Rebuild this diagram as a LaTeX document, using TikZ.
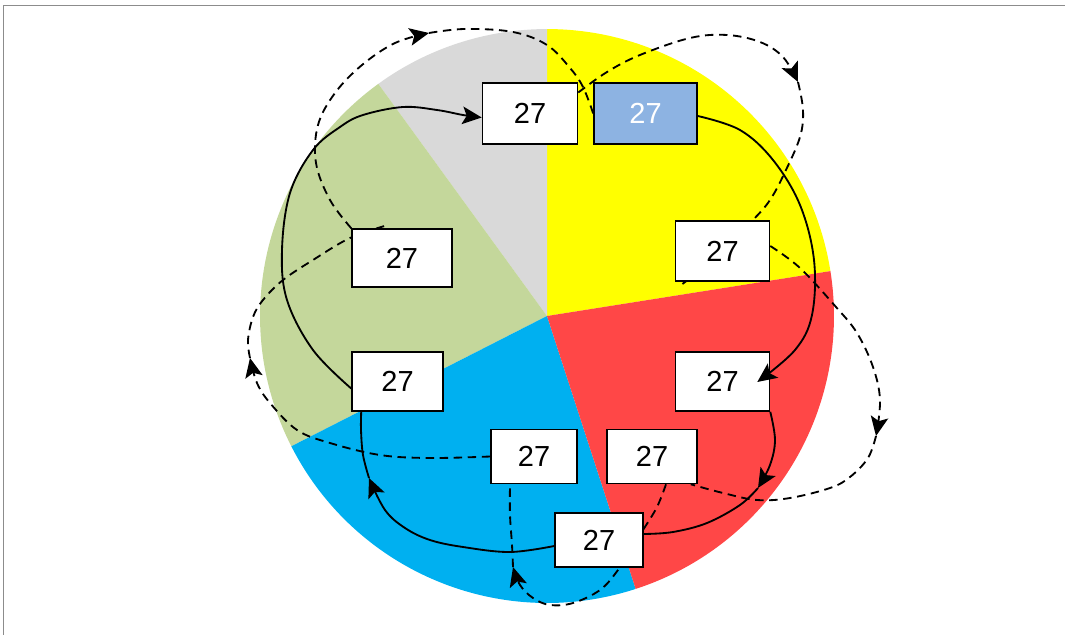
\documentclass[tikz,border=0pt]{standalone}
\usepackage{fontspec}
\setmainfont{Liberation Sans}
\usetikzlibrary{arrows.meta,calc}
\pgfdeclarelayer{bg}
\pgfdeclarelayer{mid}
\pgfsetlayers{bg,mid,main}
\definecolor{pieyellow}{HTML}{FFFF00}
\definecolor{piered}{HTML}{FF4747}
\definecolor{pieblue}{HTML}{00B0F0}
\definecolor{piegreen}{HTML}{C4D79B}
\definecolor{piegray}{HTML}{D9D9D9}
\definecolor{boxblue}{HTML}{8DB3E2}
\definecolor{framegray}{HTML}{8C8C8C}
\begin{document}
\begin{tikzpicture}[x=0.02cm, y=-0.02cm,
  box/.style={draw=black, line width=0.9pt, fill=white, inner sep=0pt,
    font=\fontsize{16.5}{20}\selectfont},
  conn/.style={line width=1.05pt},
  dsh/.style={conn, dash pattern=on 4.8pt off 3.2pt},
  headtip/.style={-{Stealth[length=11pt,width=10pt,inset=2.4pt]}}]
\useasboundingbox (0,0) rectangle (1065,635);
\begin{pgfonlayer}{bg}
  \draw[framegray, line width=0.9pt] (3.5,640) -- (3.5,5.5) -- (1070,5.5);
  \begin{scope}[shift={(547,316)}, x=1cm, y=1cm]
    \fill[pieyellow] (0,0) -- (9:5.74) arc[start angle=9, end angle=90, radius=5.74] -- cycle;
    \fill[piegray] (0,0) -- (90:5.74) arc[start angle=90, end angle=126, radius=5.74] -- cycle;
    \fill[piegreen] (0,0) -- (126:5.74) arc[start angle=126, end angle=207, radius=5.74] -- cycle;
    \fill[pieblue] (0,0) -- (207:5.74) arc[start angle=207, end angle=288, radius=5.74] -- cycle;
    \fill[piered] (0,0) -- (288:5.74) arc[start angle=288, end angle=369, radius=5.74] -- cycle;
  \end{scope}
\end{pgfonlayer}

% boxes
\node[box, minimum width=1.90cm, minimum height=1.22cm] (B1) at (530,113.5) {27};
\node[box, fill=boxblue, text=white, minimum width=2.06cm, minimum height=1.22cm] (B2) at (645.5,113.5) {27};
\node[box, minimum width=1.88cm, minimum height=1.20cm] (B3) at (722.5,251) {27};
\node[box, minimum width=1.88cm, minimum height=1.18cm] (B4) at (722.5,381.5) {27};
\node[box, minimum width=1.80cm, minimum height=1.08cm] (B5) at (652,456.5) {27};
\node[box, minimum width=1.76cm, minimum height=1.08cm] (B6) at (599,540) {27};
\node[box, minimum width=1.72cm, minimum height=1.08cm] (B7) at (534,456.5) {27};
\node[box, minimum width=1.82cm, minimum height=1.18cm] (B8) at (397.5,381.5) {27};
\node[box, minimum width=2.00cm, minimum height=1.16cm] (B9) at (402,258) {27};

% connector end points
\coordinate (s1s) at ($(B2.east)+(0,2.5)$);
\coordinate (s1e) at ($(B4.east)+(-13,0.5)$);
\coordinate (s2s) at (B4.south east);
\coordinate (s2e) at ($(B6.east)+(0,-6)$);
\coordinate (s3s) at ($(B6.west)+(0,6)$);
\coordinate (s3e) at ($(B8.south west)+(10,0)$);
\coordinate (s4s) at ($(B8.west)+(0,7)$);
\coordinate (s4e) at ($(B1.west)+(0,4)$);
\coordinate (d1s) at (B9.north west);
\coordinate (d1e) at (B2.west);
\coordinate (d2s) at ($(B1.east)+(0,-21)$);
\coordinate (d2e) at ($(B3.south west)+(4,5)$);
\coordinate (d3s) at ($(B3.east)+(0,-5)$);
\coordinate (d3e) at ($(B5.south east)+(-7,0)$);
\coordinate (d4s) at ($(B5.south)+(14,0)$);
\coordinate (d4e) at ($(B7.south)+(-24,0)$);
\coordinate (d5s) at (B7.west);
\coordinate (d5e) at ($(B9.north west)+(36,-3)$);
% arrow points on the way
\coordinate (a2) at (758,488);
\coordinate (a3) at (369,478);
\coordinate (b1) at (429,33);
\coordinate (b2) at (798,82);
\coordinate (b3) at (876,436);
\coordinate (b4) at (513,567);
\coordinate (b5) at (250,358);

% dashed connectors (under the boxes)
\begin{pgfonlayer}{mid}
  \draw[dsh, headtip] plot[smooth, tension=0.6] coordinates {(d1s) (330,200) (316,163) (318,125) (335,93) (362,65) (395,43) (b1)};
  \draw[dsh] plot[smooth, tension=0.6] coordinates {(b1) (465,29) (513,32) (547,45) (570,68) (583,87) (d1e)};
  \draw[dsh, headtip] plot[smooth, tension=0.6] coordinates {(d2s) (607,72) (640,55) (690,38) (727,35) (760,42) (783,57) (b2)};
  \draw[dsh] plot[smooth, tension=0.6] coordinates {(b2) (803,110) (800,137) (785,172) (770,200) (752,221) (715,258) (d2e)};
  \draw[dsh, headtip] plot[smooth, tension=0.6] coordinates {(d3s) (800,268) (836,307) (857,333) (873,367) (880,400) (b3)};
  \draw[dsh] plot[smooth, tension=0.6] coordinates {(b3) (868,458) (850,477) (830,488) (790,498) (757,500) (723,493) (d3e)};
  \draw[dsh, headtip] plot[smooth, tension=0.6] coordinates {(d4s) (657,507) (643,530) (630,550) (618,570) (600,590) (573,603) (550,605) (533,598) (520,585) (b4)};
  \draw[dsh] plot[smooth, tension=0.6] coordinates {(b4) (512,545) (510,515) (d4e)};
  \draw[dsh, headtip] plot[smooth, tension=0.6] coordinates {(d5s) (430,458) (380,455) (330,443) (297,430) (270,403) (257,383) (b5)};
  \draw[dsh] plot[smooth, tension=0.6] coordinates {(b5) (248,340) (253,317) (263,300) (283,280) (313,260) (350,238) (d5e)};
\end{pgfonlayer}

% solid connectors
\draw[conn, headtip] plot[smooth, tension=0.6] coordinates {(s1s) (740,130) (773,160) (800,205) (814,260) (812,315) (795,350) (s1e)};
\draw[conn, headtip] plot[smooth, tension=0.6] coordinates {(s2s) (775,440) (770,465) (a2)};
\draw[conn] plot[smooth, tension=0.6] coordinates {(a2) (740,505) (707,523) (673,532) (s2e)};
\draw[conn, headtip] plot[smooth, tension=0.6] coordinates {(s3s) (510,552) (463,547) (430,540) (405,528) (385,510) (a3)};
\draw[conn] plot[smooth, tension=0.6] coordinates {(a3) (363,455) (361,430) (s3e)};
\draw[conn, headtip] plot[smooth, tension=0.6] coordinates {(s4s) (313,350) (287,300) (282,250) (290,193) (313,150) (340,127) (363,115) (403,107) (437,110) (463,115) (s4e)};
\end{tikzpicture}
\end{document}
